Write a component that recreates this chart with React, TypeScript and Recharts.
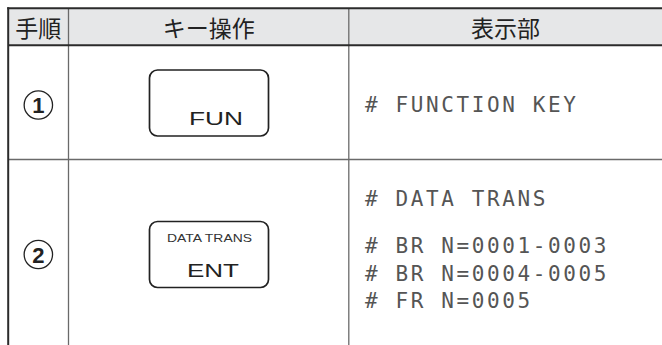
import {
  ComposedChart,
  ReferenceArea,
  ReferenceLine,
  Scatter,
  XAxis,
  YAxis,
} from "recharts";

// table contents
const headers = ["手順", "キー操作", "表示部"];
const steps = ["1", "2"];
const keySubLabels = ["", "DATA TRANS"];
const keyMainLabels = ["FUN", "ENT"];
const displayLines = [
  ["# FUNCTION KEY"],
  ["# DATA TRANS", "# BR N=0001-0003", "# BR N=0004-0005", "# FR N=0005"],
];

// layout (chart units == pixels)
const W = 662;
const H = 345;
const colEdges = [8.2, 68.5, 348.8, W];
const headerTop = 8.2;
const headerBottom = 45.2;
const rowLine = 159.5;
const rowCenters = [105, 254.5];
const keyBoxCenterX = 209;
const keyBoxCenters = [103, 254.5];
const keyMainX = [189, 187];
const keyMainLen = [54, 52];
const displayX = 365;
const displayBaselines = [[112], [206, 253, 281, 308]];

const headerPoints = headers.map((text, i) => ({
  x: (colEdges[i] + colEdges[i + 1]) / 2,
  y: (headerTop + headerBottom) / 2,
  text,
}));

const stepPoints = steps.map((text, i) => ({
  x: (colEdges[0] + colEdges[1]) / 2,
  y: rowCenters[i],
  text,
}));

const keyPoints = keyMainLabels.map((text, i) => ({
  x: keyBoxCenterX,
  y: keyBoxCenters[i],
  text,
  sub: keySubLabels[i],
  mainX: keyMainX[i],
  mainLen: keyMainLen[i],
}));

const displayPoints = displayLines.flatMap((lines, r) =>
  lines.map((text, j) => ({ x: displayX, y: displayBaselines[r][j], text }))
);

const HeaderText = (props: any) => (
  <text
    x={props.cx}
    y={props.cy}
    textAnchor="middle"
    dominantBaseline="central"
    fontFamily="'Noto Sans CJK JP', sans-serif"
    fontSize={23}
    fill="#222"
  >
    {props.payload.text}
  </text>
);

const StepMark = (props: any) => (
  <g>
    <circle cx={props.cx} cy={props.cy} r={14.2} fill="none" stroke="#222" strokeWidth={1.3} />
    <text
      x={props.cx}
      y={props.cy + 8}
      textAnchor="middle"
      fontFamily="'Liberation Sans', Arial, sans-serif"
      fontWeight="bold"
      fontSize={22}
      fill="#222"
    >
      {props.payload.text}
    </text>
  </g>
);

const KeyBox = (props: any) => {
  const { cx, cy, payload } = props;
  const w = 119;
  const h = 66;
  const top = cy - h / 2;
  return (
    <g>
      <rect
        x={cx - w / 2}
        y={top}
        width={w}
        height={h}
        rx={8}
        ry={8}
        fill="#fff"
        stroke="#222"
        strokeWidth={1.7}
      />
      {payload.sub ? (
        <text
          x={167}
          y={top + 20}
          textLength={85}
          lengthAdjust="spacingAndGlyphs"
          fontFamily="'Liberation Sans', Arial, sans-serif"
          fontSize={10.3}
          fill="#333"
        >
          {payload.sub}
        </text>
      ) : null}
      <text
        x={payload.mainX}
        y={top + 55}
        textLength={payload.mainLen}
        lengthAdjust="spacingAndGlyphs"
        fontFamily="'Liberation Sans', Arial, sans-serif"
        fontSize={18.8}
        fill="#222"
      >
        {payload.text}
      </text>
    </g>
  );
};

const DisplayText = (props: any) => (
  <text
    x={props.cx}
    y={props.cy}
    fontFamily="'DejaVu Sans Mono', monospace"
    fontSize={21}
    letterSpacing={2.6}
    fill="#555"
  >
    {props.payload.text}
  </text>
);

export default function App() {
  return (
    <div style={{ position: "absolute", left: 0, top: 0, background: "#fff" }}>
      <ComposedChart width={W} height={H} margin={{ top: 0, right: 0, bottom: 0, left: 0 }}>
        <XAxis type="number" dataKey="x" domain={[0, W]} hide allowDataOverflow />
        <YAxis type="number" dataKey="y" domain={[0, H]} reversed hide allowDataOverflow />
        <ReferenceArea
          x1={colEdges[0]}
          x2={W}
          y1={headerTop}
          y2={headerBottom}
          fill="#e6e7e8"
          fillOpacity={1}
          stroke="none"
        />
        <ReferenceLine
          segment={[{ x: colEdges[1], y: headerTop }, { x: colEdges[1], y: H }]}
          stroke="#6a6a6a"
          strokeWidth={1.3}
        />
        <ReferenceLine
          segment={[{ x: colEdges[2], y: headerTop }, { x: colEdges[2], y: H }]}
          stroke="#6a6a6a"
          strokeWidth={1.3}
        />
        <ReferenceLine
          segment={[{ x: colEdges[0], y: rowLine }, { x: W, y: rowLine }]}
          stroke="#6a6a6a"
          strokeWidth={1.5}
        />
        <ReferenceLine
          segment={[{ x: colEdges[0] - 1, y: headerTop }, { x: W, y: headerTop }]}
          stroke="#2b2b2b"
          strokeWidth={2}
        />
        <ReferenceLine
          segment={[{ x: colEdges[0], y: headerBottom }, { x: W, y: headerBottom }]}
          stroke="#2b2b2b"
          strokeWidth={2}
        />
        <ReferenceLine
          segment={[{ x: colEdges[0], y: headerTop - 1 }, { x: colEdges[0], y: H }]}
          stroke="#2b2b2b"
          strokeWidth={2}
        />
        <Scatter data={headerPoints} shape={HeaderText} isAnimationActive={false} />
        <Scatter data={stepPoints} shape={StepMark} isAnimationActive={false} />
        <Scatter data={keyPoints} shape={KeyBox} isAnimationActive={false} />
        <Scatter data={displayPoints} shape={DisplayText} isAnimationActive={false} />
      </ComposedChart>
    </div>
  );
}
